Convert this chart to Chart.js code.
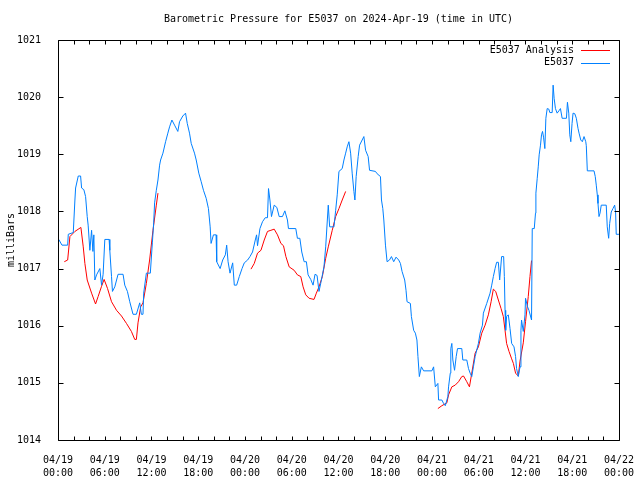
<!DOCTYPE html>
<html><head><meta charset="utf-8">
<script src="https://cdn.jsdelivr.net/npm/chart.js@4/dist/chart.umd.min.js"></script>
<style>html,body{margin:0;padding:0;background:#fff;} canvas{display:block;}</style>
</head><body>
<canvas id="c" width="640" height="480"></canvas>
<script>
const titleText = 'Barometric Pressure for E5037 on 2024-Apr-19 (time in UTC)';
const yAxisTitle = 'milliBars';
const seriesNames = ['E5037 Analysis', 'E5037'];
const seriesColors = ['#ff0000', '#0080ff'];
const xTickDates = ['04/19','04/19','04/19','04/19','04/20','04/20','04/20','04/20','04/21','04/21','04/21','04/21','04/22'];
const xTickTimes = ['00:00','06:00','12:00','18:00','00:00','06:00','12:00','18:00','00:00','06:00','12:00','18:00','00:00'];
const yMin = 1014, yMax = 1021;

// hours since 04/19 00:00 UTC
const analysisHours = [0.81,1.24,1.53,2.17,2.94,3.24,3.45,3.75,4.31,4.82,5.15,5.59,5.92,6.36,6.87,7.51,8.15,8.79,9.42,9.85,10.06,10.27,10.61,10.91,11.34,11.76,12.19,12.62,12.83,
 18,
 24.77,25.19,25.61,26.05,26.47,26.89,27.33,27.75,28.17,28.61,28.94,29.25,29.67,30.31,30.73,31.16,31.46,31.80,32.23,32.86,33.16,33.50,33.93,34.36,34.69,35.20,35.64,36.06,36.48,36.92,
 42,
 48.76,49.27,49.91,50.13,50.55,50.98,51.41,51.83,52.05,52.47,52.81,53.11,53.54,53.96,54.39,54.82,55.24,55.59,55.88,56.18,56.52,56.87,57.16,57.38,57.58,57.89,58.23,58.45,58.73,59.08,59.30,59.72,60.01,60.36,60.58,60.78];
const analysisValues = [1017.12,1017.15,1017.56,1017.65,1017.72,1017.38,1017.09,1016.80,1016.57,1016.38,1016.51,1016.69,1016.81,1016.65,1016.42,1016.27,1016.17,1016.04,1015.90,1015.76,1015.76,1016.05,1016.33,1016.40,1016.74,1017.15,1017.67,1018.11,1018.32,
 null,
 1016.99,1017.09,1017.27,1017.32,1017.50,1017.65,1017.67,1017.69,1017.59,1017.44,1017.40,1017.21,1017.03,1016.97,1016.89,1016.86,1016.68,1016.54,1016.48,1016.46,1016.57,1016.68,1016.86,1017.18,1017.38,1017.67,1017.91,1018.05,1018.20,1018.35,
 null,
 1014.55,1014.60,1014.65,1014.79,1014.93,1014.96,1015.02,1015.11,1015.12,1015.02,1014.93,1015.17,1015.52,1015.63,1015.87,1016.01,1016.19,1016.42,1016.64,1016.60,1016.45,1016.30,1016.16,1015.92,1015.69,1015.55,1015.42,1015.34,1015.17,1015.12,1015.38,1015.70,1016.07,1016.51,1016.86,1017.14];

const stationHours = [0.10,0.51,1.24,1.32,1.96,2.17,2.26,2.60,2.90,3.03,3.32,3.54,3.75,3.87,4.09,4.31,4.48,4.60,4.73,4.95,5.37,5.59,5.79,6.01,6.56,6.65,6.87,6.99,7.29,7.71,8.35,8.57,8.91,9.21,9.63,10.06,10.49,10.70,10.91,11.00,11.34,11.85,12.11,12.28,12.40,12.62,12.83,13.04,13.17,13.47,13.81,14.10,14.32,14.62,14.96,15.38,15.60,16.02,16.37,16.59,16.88,17.10,17.52,17.74,18.07,18.38,18.67,19.02,19.31,19.53,19.65,19.95,20.29,20.37,20.81,21.14,21.48,21.65,21.83,22.08,22.42,22.63,22.93,23.27,23.62,23.91,24.34,24.64,24.97,25.32,25.49,25.61,25.92,26.25,26.60,26.89,27.02,27.20,27.40,27.75,28.09,28.39,28.81,29.12,29.45,29.58,30.52,30.73,31.04,31.29,31.59,31.88,32.10,32.44,32.74,32.99,33.25,33.50,33.72,34.14,34.36,34.57,34.69,34.87,35.42,35.64,35.84,36.06,36.48,36.70,36.92,37.12,37.34,37.56,37.76,37.98,38.11,38.27,38.53,38.71,39.04,39.26,39.48,39.81,39.99,40.75,40.96,41.39,41.52,41.69,41.82,42.03,42.24,42.55,42.80,43.09,43.39,43.73,43.95,44.16,44.50,44.67,44.80,45.23,45.36,45.65,45.87,46.07,46.20,46.38,46.64,46.93,47.99,48.21,48.43,48.76,48.85,49.27,49.49,49.71,50.04,50.13,50.35,50.42,50.55,50.68,50.90,51.11,51.28,51.83,51.96,52.47,52.69,52.90,53.11,53.32,53.54,53.96,54.18,54.48,54.60,55.03,55.46,55.67,55.88,56.10,56.30,56.52,56.69,56.94,57.20,57.29,57.38,57.46,57.58,57.80,58.02,58.23,58.53,58.73,58.86,59.08,59.30,59.42,59.50,59.72,59.94,60.01,60.27,60.45,60.78,60.87,61.13,61.29,61.34,61.51,61.64,61.76,61.93,62.06,62.19,62.32,62.49,62.62,62.79,63.00,63.13,63.43,63.55,63.68,63.85,64.07,64.29,64.49,64.71,65.26,65.39,65.56,65.69,65.82,65.98,66.11,66.33,66.53,66.75,66.88,67.10,67.30,67.52,67.74,67.81,67.94,68.80,68.96,69.09,69.22,69.31,69.44,69.57,69.73,70.37,70.50,70.68,70.81,71.01,71.23,71.45,71.57,71.65,72.00];
const stationValues = [1017.51,1017.41,1017.41,1017.60,1017.63,1018.20,1018.41,1018.62,1018.62,1018.41,1018.38,1018.26,1017.91,1017.76,1017.32,1017.67,1017.30,1017.59,1016.80,1016.89,1017.00,1016.71,1016.90,1017.51,1017.51,1017.32,1016.86,1016.60,1016.68,1016.90,1016.90,1016.71,1016.60,1016.42,1016.20,1016.20,1016.40,1016.20,1016.20,1016.57,1016.92,1016.92,1017.45,1017.80,1018.15,1018.37,1018.55,1018.81,1018.90,1019.02,1019.22,1019.37,1019.48,1019.60,1019.51,1019.40,1019.57,1019.67,1019.72,1019.54,1019.37,1019.19,1019.02,1018.90,1018.67,1018.52,1018.37,1018.23,1018.05,1017.73,1017.44,1017.59,1017.59,1017.12,1017.00,1017.15,1017.24,1017.41,1017.12,1016.92,1017.10,1016.71,1016.71,1016.86,1017.00,1017.10,1017.15,1017.21,1017.29,1017.50,1017.59,1017.40,1017.70,1017.82,1017.89,1017.89,1018.40,1018.20,1017.91,1018.11,1018.07,1017.91,1017.91,1018.01,1017.85,1017.70,1017.70,1017.53,1017.53,1017.29,1017.12,1017.12,1016.89,1016.81,1016.71,1016.90,1016.88,1016.60,1016.74,1017.03,1017.38,1017.85,1018.11,1017.73,1017.73,1018.02,1018.29,1018.70,1018.75,1018.90,1019.02,1019.13,1019.22,1019.02,1018.67,1018.35,1018.20,1018.61,1018.96,1019.16,1019.25,1019.31,1019.07,1018.96,1018.72,1018.70,1018.66,1018.61,1018.20,1018.05,1017.85,1017.41,1017.12,1017.15,1017.21,1017.12,1017.20,1017.15,1017.09,1016.95,1016.80,1016.62,1016.42,1016.39,1016.16,1015.92,1015.87,1015.75,1015.46,1015.11,1015.28,1015.21,1015.21,1015.28,1014.93,1014.99,1014.70,1014.70,1014.64,1014.60,1014.76,1014.93,1015.17,1015.60,1015.69,1015.40,1015.22,1015.46,1015.60,1015.60,1015.40,1015.40,1015.25,1015.17,1015.11,1015.28,1015.46,1015.69,1015.87,1016.01,1016.22,1016.39,1016.57,1016.71,1016.86,1017.00,1017.11,1017.11,1016.80,1017.21,1017.21,1016.86,1016.27,1015.92,1016.16,1016.19,1015.95,1015.69,1015.63,1015.46,1015.25,1015.11,1015.28,1015.92,1016.10,1015.90,1016.19,1016.48,1016.33,1016.27,1016.10,1017.70,1017.70,1017.97,1018.32,1018.58,1018.78,1018.99,1019.16,1019.34,1019.40,1019.30,1019.10,1019.63,1019.80,1019.79,1019.73,1019.73,1020.21,1019.98,1019.80,1019.72,1019.76,1019.80,1019.63,1019.63,1019.91,1019.72,1019.34,1019.22,1019.54,1019.72,1019.71,1019.63,1019.45,1019.37,1019.25,1019.22,1019.31,1019.22,1019.15,1018.71,1018.71,1018.61,1018.46,1018.29,1018.14,1017.91,1017.97,1018.11,1018.11,1017.73,1017.53,1017.79,1017.99,1018.05,1018.11,1017.99,1017.60,1017.60];

const FONT = "'DejaVu Sans Mono', 'Liberation Mono', monospace";
const toPoints = (xs, ys) => xs.map((x, i) => ({x: x, y: ys[i]}));

const decor = {
  id: 'decor',
  beforeDraw(chart) {
    const ctx = chart.ctx;
    ctx.save();
    ctx.fillStyle = '#ffffff';
    ctx.fillRect(0, 0, chart.width, chart.height);
    ctx.restore();
  },
  afterDraw(chart) {
    const ctx = chart.ctx;
    const a = chart.chartArea;
    const xs = chart.scales.x, ys = chart.scales.y;
    const L = Math.round(a.left) + 0.5, R = Math.round(a.right) + 0.5;
    const T = Math.round(a.top) + 0.5, B = Math.round(a.bottom) + 0.5;
    ctx.save();
    ctx.strokeStyle = '#000';
    ctx.lineWidth = 1;
    ctx.beginPath();
    ctx.rect(L, T, R - L, B - T);
    for (let v = 0; v <= 72; v += 2) {
      const px = Math.round(xs.getPixelForValue(v)) + 0.5;
      ctx.moveTo(px, B); ctx.lineTo(px, B - 4);
      ctx.moveTo(px, T); ctx.lineTo(px, T + 4);
    }
    for (let v = yMin; v <= yMax; v += 1) {
      const py = Math.round(ys.getPixelForValue(v)) + 0.5;
      ctx.moveTo(L, py); ctx.lineTo(L + 5, py);
      ctx.moveTo(R, py); ctx.lineTo(R - 5, py);
    }
    ctx.stroke();

    ctx.fillStyle = '#000';
    ctx.font = '10px ' + FONT;
    ctx.textBaseline = 'middle';
    ctx.textAlign = 'center';
    ctx.fillText(titleText, (a.left + a.right) / 2, 19);

    ctx.save();
    ctx.translate(11, (a.top + a.bottom) / 2);
    ctx.rotate(-Math.PI / 2);
    ctx.fillText(yAxisTitle, 0, 0);
    ctx.restore();

    ctx.textAlign = 'right';
    const rowsY = [50, 62.5];
    seriesNames.forEach((name, i) => {
      ctx.fillStyle = '#000';
      ctx.fillText(name, 574, rowsY[i]);
      ctx.strokeStyle = seriesColors[i];
      ctx.beginPath();
      const yy = Math.round(rowsY[i]) + 0.5;
      ctx.moveTo(581, yy); ctx.lineTo(610, yy);
      ctx.stroke();
    });
    ctx.restore();
  }
};

new Chart(document.getElementById('c'), {
  type: 'line',
  data: {
    datasets: [
      { label: seriesNames[1], data: toPoints(stationHours, stationValues), borderColor: seriesColors[1], borderWidth: 1, pointRadius: 0, tension: 0, fill: false, order: 0 },
      { label: seriesNames[0], data: toPoints(analysisHours, analysisValues), borderColor: seriesColors[0], borderWidth: 1, pointRadius: 0, tension: 0, fill: false, spanGaps: false, order: 1 }
    ]
  },
  options: {
    responsive: false,
    animation: false,
    devicePixelRatio: 1,
    layout: { padding: { top: 40, right: 19, left: 0, bottom: 0 } },
    plugins: { legend: { display: false }, tooltip: { enabled: false }, title: { display: false } },
    scales: {
      x: {
        type: 'linear', min: 0, max: 72,
        grid: { display: false }, border: { display: false },
        afterFit: s => { s.height = 40; },
        ticks: {
          stepSize: 6, autoSkip: false, maxRotation: 0, padding: 6,
          color: '#000', font: { family: FONT, size: 10, lineHeight: 1.3 },
          callback: v => { const i = Math.round(v / 6); return [xTickDates[i], xTickTimes[i]]; }
        }
      },
      y: {
        type: 'linear', min: yMin, max: yMax,
        grid: { display: false }, border: { display: false },
        afterFit: s => { s.width = 58; },
        ticks: { stepSize: 1, padding: 9, color: '#000', font: { family: FONT, size: 10 }, callback: v => String(v) }
      }
    }
  },
  plugins: [decor]
});
</script>
</body></html>
